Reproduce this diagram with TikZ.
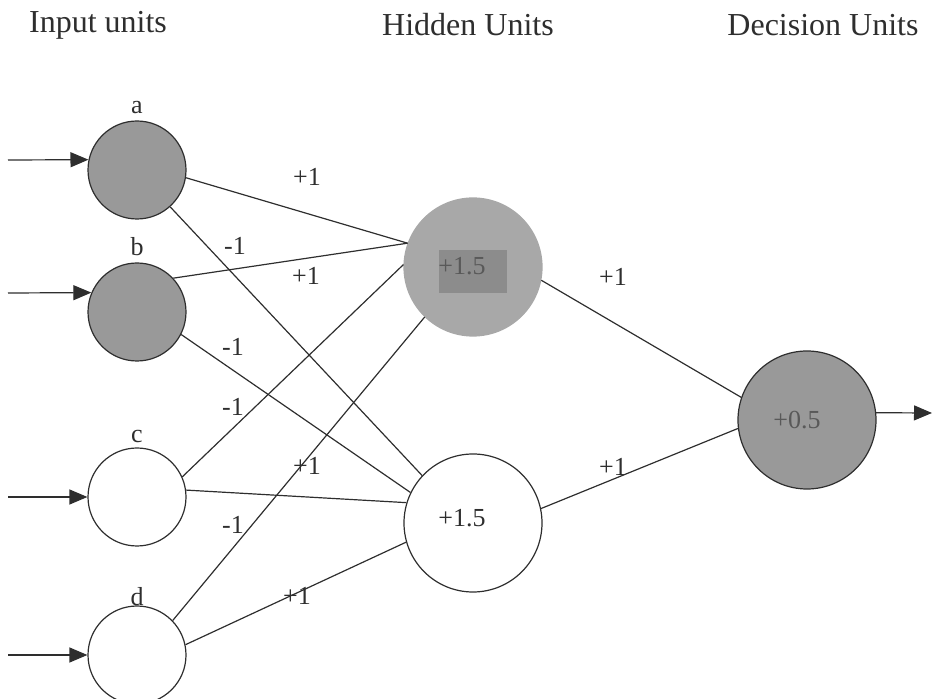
\documentclass[tikz,border=0pt]{standalone}
\usepackage{fontspec}
\setmainfont{Liberation Serif}
\usetikzlibrary{arrows.meta}
\definecolor{cellgray}{HTML}{999999}
\definecolor{hidgray}{HTML}{A8A8A8}
\definecolor{boxgray}{HTML}{8C8C8C}
\definecolor{inkgray}{HTML}{2E2E2E}
\tikzset{
  neuron/.style={circle,draw=inkgray,line width=0.6pt,inner sep=0pt},
  inneuron/.style={neuron,minimum size=49pt},
  bigneuron/.style={neuron,minimum size=69pt},
  heading/.style={font=\fontsize{16}{18}\selectfont,text=inkgray},
  wt/.style={font=\fontsize{13}{15}\selectfont,text=inkgray,inner sep=1pt},
  link/.style={draw=inkgray,line width=0.6pt},
  feed/.style={link,-{Triangle[length=9pt,width=7.5pt]}},
}
\begin{document}
\begin{tikzpicture}[x=0.5pt,y=-0.5pt]
\useasboundingbox (0,0) rectangle (932,699);

\node[heading] (hin) at (98,25) {Input units};
\node[heading] (hhid) at (468,25) {Hidden Units};
\node[heading] (hdec) at (823,25) {Decision Units};

% input units
\node[inneuron,fill=cellgray] (a) at (137,170) {};
\node[inneuron,fill=cellgray] (b) at (137,312) {};
\node[inneuron] (c) at (137,497) {};
\node[inneuron] (d) at (137,655) {};
\node[wt] (la) at (137,108) {a};
\node[wt] (lb) at (137,247) {b};
\node[wt] (lc) at (137,437) {c};
\node[wt] (ld) at (137,597) {d};

% hidden and decision units
\node[bigneuron,fill=hidgray,draw=hidgray] (h1) at (473,267) {};
\node[fill=boxgray,minimum width=34pt,minimum height=21.5pt,inner sep=0pt] (h1box) at (473,271.5) {};
\node[wt,text=black!65] (h1val) at (462,266) {+1.5};
\node[bigneuron] (h2) at (473,523) {};
\node[wt] (h2val) at (462,518) {+1.5};
\node[bigneuron,fill=cellgray] (out) at (807,420) {};
\node[wt,text=black!65] (outval) at (797,420) {+0.5};

\coordinate (ina) at (8,160);
\coordinate (inb) at (8,293);
\coordinate (inc) at (8,497);
\coordinate (ind) at (8,655);
\coordinate (outend) at (932,413);

\draw[feed] (ina) -- (a.168);
\draw[feed] (inb) -- (b.157);
\draw[feed] (inc) -- (c.180);
\draw[feed] (ind) -- (d.180);

\draw[link] (a.-9) -- (h1.160);
\draw[link] (a.-48) -- (h2.137);
\draw[link] (b.43) -- (h1.160);
\draw[link] (b.-27) -- (h2.154);
\draw[link] (c.24) -- (h1.178);
\draw[link] (c.8) -- (h2.163);
\draw[link] (d.44) -- (h1.226);
\draw[link] (d.12) -- (h2.196);
\draw[link] (h1.-11) -- (out.161);
\draw[link] (h2.12) -- (out.187);
\draw[feed] (out.6) -- (outend);

% weights
\node[wt] (w1) at (307,177) {+1};
\node[wt] (w2) at (235,246) {-1};
\node[wt] (w3) at (306,276) {+1};
\node[wt] (w4) at (233,347) {-1};
\node[wt] (w5) at (233,407) {-1};
\node[wt] (w6) at (307,466) {+1};
\node[wt] (w7) at (233,525) {-1};
\node[wt] (w8) at (297,596) {+1};
\node[wt] (w9) at (613,277) {+1};
\node[wt] (w10) at (613,467) {+1};
\end{tikzpicture}
\end{document}
